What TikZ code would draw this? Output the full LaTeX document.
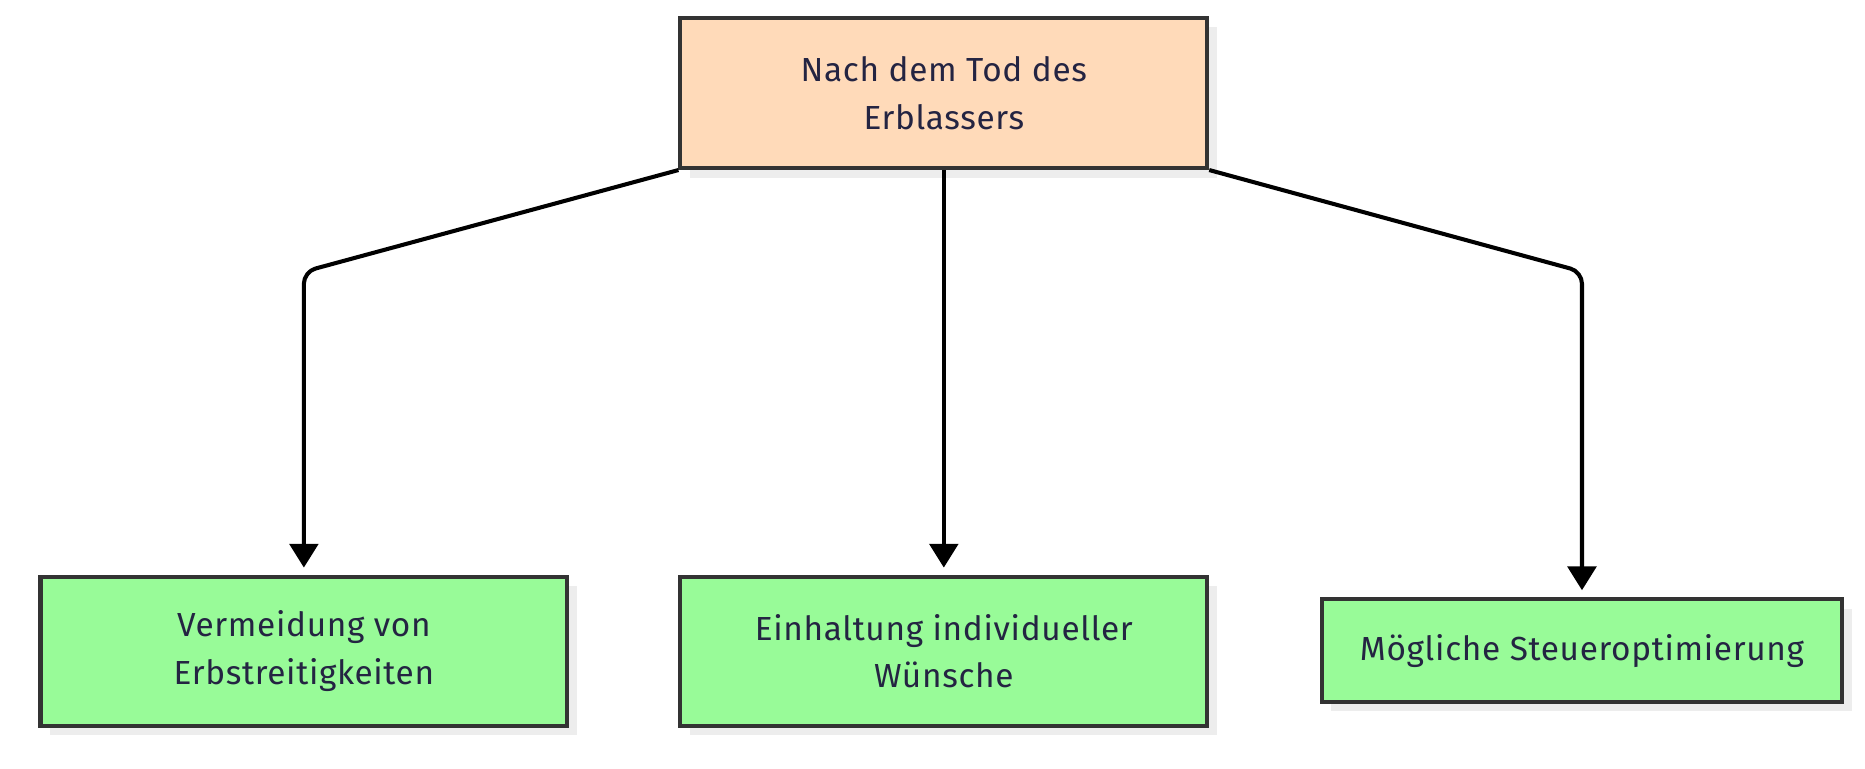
\documentclass[tikz,border=0pt]{standalone}
\usepackage{fontspec}
\setmainfont[LetterSpace=2]{Fira Sans}
\usetikzlibrary{arrows.meta,shadows}

\definecolor{rahmen}{HTML}{333333}
\definecolor{schrift}{RGB}{36,36,66}
\definecolor{pfirsich}{RGB}{255,218,185}
\definecolor{hellgruen}{RGB}{152,251,152}

\tikzset{
  box/.style={draw=rahmen, line width=1.7pt, text=schrift, align=center,
    inner sep=0pt, font=\fontsize{14}{20}\selectfont,
    drop shadow={shadow xshift=4pt, shadow yshift=-4pt, fill=black!7, opacity=1}},
  start/.style={box, fill=pfirsich},
  ziel/.style={box, fill=hellgruen},
  pfeil/.style={line width=1.7pt, rounded corners=5pt, shorten >=3pt,
    -{Triangle[width=12pt,length=10pt]}}
}

\begin{document}
\begin{tikzpicture}[x=0.5pt,y=-0.5pt]
    \useasboundingbox (0,0) rectangle (1565,645.3);

    \node[start, minimum width=221pt, minimum height=63pt] (erbl) at (792,78)
        {Nach dem Tod des\\Erblassers};

    \node[ziel, minimum width=221pt, minimum height=62.5pt] (streit) at (255,546.5)
        {Vermeidung von\\Erbstreitigkeiten};
    \node[ziel, minimum width=221pt, minimum height=62.5pt] (wunsch) at (792,546.5)
        {Einhaltung individueller\\Wünsche};
    \node[ziel, minimum width=218.5pt, minimum height=43pt] (steuer) at (1327.5,546)
        {Mögliche Steueroptimierung};

    % Kanten
    \draw[pfeil] (erbl.south west) -- (255,228) -- (streit.north);
    \draw[pfeil] (erbl.south) -- (wunsch.north);
    \draw[pfeil] (erbl.south east) -- (1327.5,228) -- (steuer.north);
\end{tikzpicture}
\end{document}
